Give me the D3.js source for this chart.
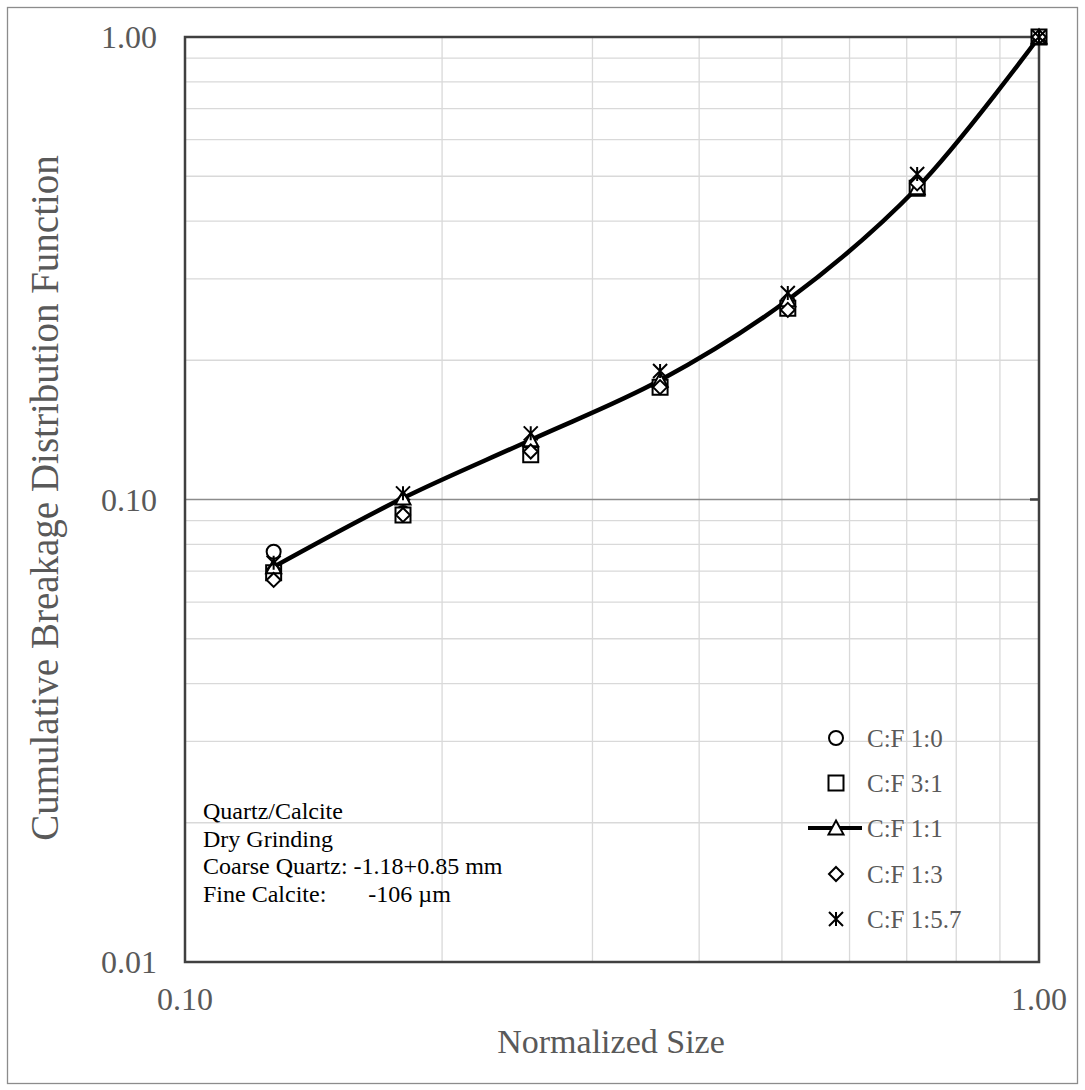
<!DOCTYPE html>
<html>
<head>
<meta charset="utf-8">
<script src="https://cdn.jsdelivr.net/npm/d3@7"></script>
<style>
  html, body { margin: 0; padding: 0; background: #fff; }
  svg { display: block; font-family: "Liberation Serif", "Times New Roman", serif; }
</style>
</head>
<body>
<svg id="chart" width="1085" height="1090"></svg>
<script>
// Normalized particle size (sieve size / top size 1.18 mm)
const sizes = [0.127, 0.180, 0.254, 0.360, 0.508, 0.720, 1.0];

// Cumulative breakage distribution function, one array per coarse:fine ratio
const cf_1_0   = [0.0771, 0.0935, 0.128, 0.176, 0.259, 0.478, 1.0];
const cf_3_1   = [0.0694, 0.0926, 0.125, 0.1748, 0.259, 0.471, 1.0];
const cf_1_1   = [0.0715, 0.1007, 0.1345, 0.181, 0.270, 0.472, 1.0];
const cf_1_3   = [0.0670, 0.0926, 0.127, 0.175, 0.257, 0.4826, 1.0];
const cf_1_5_7 = [0.0730, 0.1031, 0.139, 0.1896, 0.2796, 0.5056, 1.0];

const seriesNames = ["C:F 1:0", "C:F 3:1", "C:F 1:1", "C:F 1:3", "C:F 1:5.7"];
const seriesShapes = ["circle", "square", "triangle", "diamond", "star"];
const seriesValues = [cf_1_0, cf_3_1, cf_1_1, cf_1_3, cf_1_5_7];

const xTickLabels = ["0.10", "1.00"];
const yTickLabels = ["0.01", "0.10", "1.00"];
const notes = ["Quartz/Calcite", "Dry Grinding", "Coarse Quartz: -1.18+0.85 mm",
  "Fine Calcite:\u00a0\u00a0\u00a0\u00a0\u00a0\u00a0 -106 \u00b5m"];

const svg = d3.select("#chart");
const plotL = 185, plotR = 1039, plotT = 37, plotB = 962;

const x = d3.scaleLog().domain([0.1, 1]).range([plotL, plotR]);
const y = d3.scaleLog().domain([0.01, 1]).range([plotB, plotT]);

// outer frame
svg.append("rect").attr("x", 7.5).attr("y", 7.5).attr("width", 1070).attr("height", 1076)
  .attr("fill", "#fff").attr("stroke", "#8c8c8c").attr("stroke-width", 1.3);

// grid
const g = svg.append("g");
const xMinor = [0.2, 0.3, 0.4, 0.5, 0.6, 0.7, 0.8, 0.9];
const yMinor = [0.02, 0.03, 0.04, 0.05, 0.06, 0.07, 0.08, 0.09, 0.2, 0.3, 0.4, 0.5, 0.6, 0.7, 0.8, 0.9];
g.selectAll(".xg").data(xMinor).join("line")
  .attr("x1", d => x(d)).attr("x2", d => x(d)).attr("y1", plotT).attr("y2", plotB)
  .attr("stroke", "#d9d9d9").attr("stroke-width", 1.3);
g.selectAll(".yg").data(yMinor).join("line")
  .attr("x1", plotL).attr("x2", plotR).attr("y1", d => y(d)).attr("y2", d => y(d))
  .attr("stroke", "#d9d9d9").attr("stroke-width", 1.3);
g.append("line").attr("x1", plotL).attr("x2", plotR).attr("y1", y(0.1)).attr("y2", y(0.1))
  .attr("stroke", "#8c8c8c").attr("stroke-width", 1.5);
g.append("line").attr("x1", plotR - 9).attr("x2", plotR).attr("y1", y(0.1)).attr("y2", y(0.1))
  .attr("stroke", "#404040").attr("stroke-width", 2.5);

// plot border
svg.append("rect").attr("x", plotL).attr("y", plotT).attr("width", plotR - plotL).attr("height", plotB - plotT)
  .attr("fill", "none").attr("stroke", "#404040").attr("stroke-width", 2.5);

// tick labels
svg.selectAll(".yt").data(yTickLabels).join("text")
  .attr("x", 157).attr("y", d => y(+d)).attr("dy", "0.35em")
  .attr("text-anchor", "end").attr("font-size", 32).attr("fill", "#595959").text(d => d);
svg.selectAll(".xt").data(xTickLabels).join("text")
  .attr("x", d => x(+d)).attr("y", 999).attr("dy", "0.35em")
  .attr("text-anchor", "middle").attr("font-size", 32).attr("fill", "#595959").text(d => d);

// axis titles
svg.append("text").attr("x", 611).attr("y", 1053)
  .attr("text-anchor", "middle").attr("font-size", 34).attr("fill", "#595959").text("Normalized Size");
svg.append("text").attr("transform", `translate(44,498) rotate(-90)`)
  .attr("dy", "0.35em").attr("text-anchor", "middle").attr("font-size", 39).attr("fill", "#595959")
  .text("Cumulative Breakage Distribution Function");

// marker path generator
function markerPath(shape, s) {
  const h = s / 2;
  switch (shape) {
    case "circle": return d3.symbol(d3.symbolCircle, Math.PI * h * h)();
    case "square": return `M${-h},${-h}H${h}V${h}H${-h}Z`;
    case "triangle": return `M0,${-h}L${h},${h * 0.85}L${-h},${h * 0.85}Z`;
    case "diamond": return `M0,${-h}L${h},0L0,${h}L${-h},0Z`;
    case "star": return `M${-h},${-h}L${h},${h}M${-h},${h}L${h},${-h}M0,${-h}V${h}`;
  }
}
const markerSize = { circle: 14, square: 15, triangle: 15, diamond: 14, star: 14 };

// fitted smooth line through the 1:1 series
const line = d3.line().x((d, i) => x(sizes[i])).y(d => y(d)).curve(d3.curveCatmullRom.alpha(0.5));
svg.append("path").datum(cf_1_1).attr("d", line)
  .attr("fill", "none").attr("stroke", "#000").attr("stroke-width", 4.5);

// markers
seriesValues.forEach((vals, si) => {
  const shape = seriesShapes[si];
  svg.append("g").selectAll("path").data(vals).join("path")
    .attr("transform", (d, i) => `translate(${x(sizes[i])},${y(d)})`)
    .attr("d", markerPath(shape, markerSize[shape]))
    .attr("fill", shape === "star" ? "none" : "#fff")
    .attr("stroke", "#000").attr("stroke-width", 2);
});

// legend
const legendY = [738, 783, 828, 874, 919];
const lg = svg.append("g");
seriesNames.forEach((name, i) => {
  const shape = seriesShapes[i];
  if (shape === "triangle") {
    lg.append("line").attr("x1", 808).attr("x2", 862).attr("y1", legendY[i]).attr("y2", legendY[i])
      .attr("stroke", "#000").attr("stroke-width", 4);
  }
  lg.append("path").attr("transform", `translate(836,${legendY[i]})`)
    .attr("d", markerPath(shape, markerSize[shape]))
    .attr("fill", shape === "star" ? "none" : "#fff").attr("stroke", "#000").attr("stroke-width", 2);
  lg.append("text").attr("x", 867).attr("y", legendY[i]).attr("dy", "0.35em")
    .attr("font-size", 25).attr("fill", "#595959").text(name);
});

// experiment notes
svg.selectAll(".note").data(notes).join("text")
  .attr("x", 203).attr("y", (d, i) => 811 + i * 27.5).attr("dy", "0.35em")
  .attr("font-size", 24).attr("fill", "#000").text(d => d);
</script>
</body>
</html>
